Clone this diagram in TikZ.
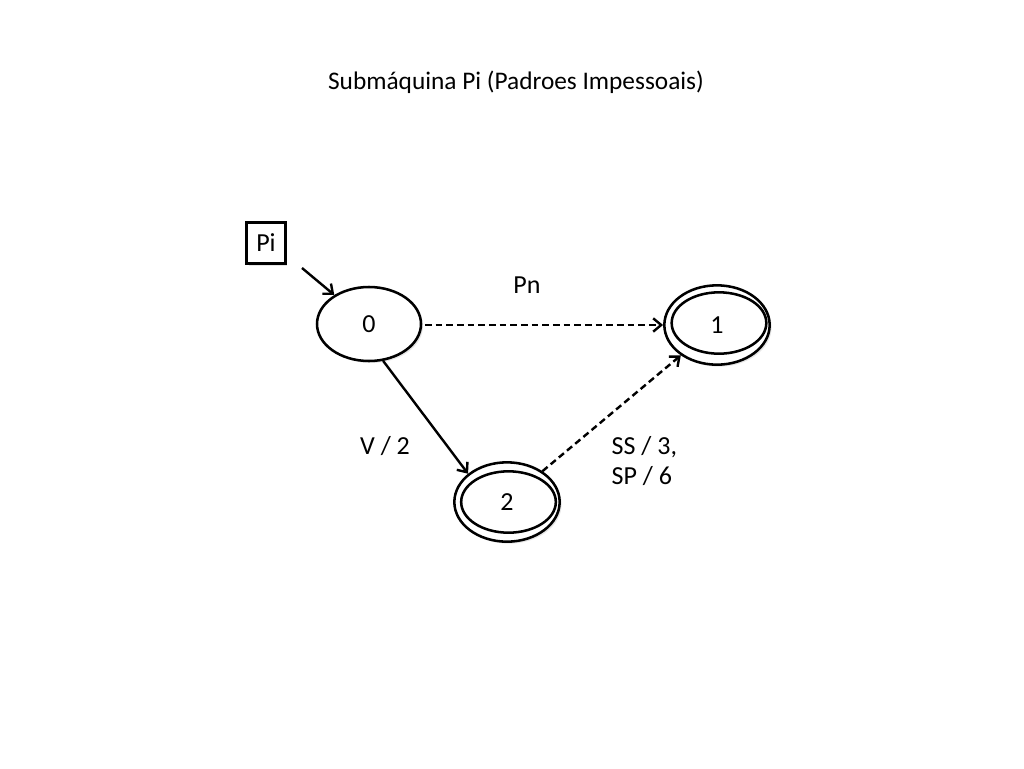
\documentclass[tikz,border=0pt]{standalone}
\usepackage{fontspec}
\setmainfont{Carlito}
\usetikzlibrary{positioning,arrows.meta,shapes.geometric,shadows}

\begin{document}
\begin{tikzpicture}[
        x=0.75pt, y=-0.75pt,
        shade/.style={drop shadow={opacity=0.2, shadow xshift=1.5pt, shadow yshift=-1.5pt}},
        state/.style={ellipse, draw, line width=1.9pt, fill=white, minimum width=78pt, minimum height=55.5pt, inner sep=0pt, font=\fontsize{19.5}{23}\selectfont, shade},
        final/.style={state, minimum width=79pt, minimum height=59.5pt},
        innerring/.style={ellipse, draw, line width=1.9pt, minimum width=71pt, minimum height=46pt, inner sep=0pt},
        edgetext/.style={font=\fontsize{19.5}{23}\selectfont, align=left},
        arrow/.style={line width=1.8pt, -{Straight Barb[length=6pt,width=10pt]}},
        dashline/.style={dash pattern=on 5pt off 3pt}
    ]
        \useasboundingbox (0,0) rectangle (1024,768);

        % Title
        \node[font=\fontsize{19}{23}\selectfont] (title) at (516,82) {Submáquina Pi (Padroes Impessoais)};

        % Entry
        \node[draw, line width=1.9pt, fill=white, minimum width=29pt, minimum height=31pt, font=\fontsize{19.5}{23}\selectfont, shade] (pi) at (266,243) {Pi};
        \coordinate (entry) at (302,268);

        % States
        \node[state] (s0) at (369,324) {0};
        \node[final] (s1) at (717,325) {1};
        \node[innerring] (r1) at ([shift={(2,-2)}]s1.center) {};
        \node[final] (s2) at (507,502) {2};
        \node[innerring] (r2) at ([shift={(1.5,0)}]s2.center) {};

        % Labels
        \node[edgetext] (pn) at (527,285) {Pn};
        \node[edgetext] (v2) at (385,446) {V / 2};
        \node[edgetext, anchor=west] (ss) at (607,461) {SS / 3,\\SP / 6};

        % Arrows
        \draw[arrow] (entry) -- (s0);
        \draw[arrow, dashline, shorten <=2pt] (s0.east |- s1.west) -- (s1.west);
        \draw[arrow] (s0.291) -- (s2.144);
        \draw[arrow, dashline] (s2.41) -- (s1.220);
    \end{tikzpicture}
\end{document}
